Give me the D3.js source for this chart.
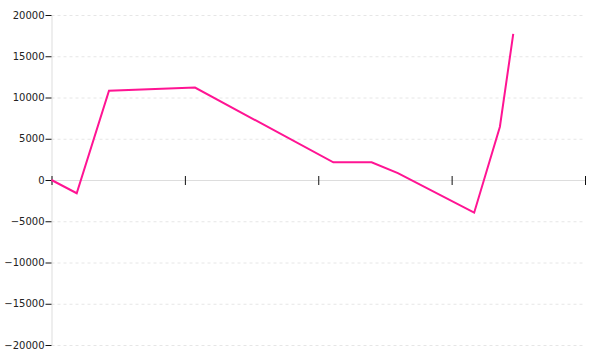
<!DOCTYPE html>
<html>
<head>
<meta charset="utf-8">
<script src="https://d3js.org/d3.v7.min.js"></script>
<style>
    body { margin: 0; background: #fff; }
    .axis text { font-family: "DejaVu Sans", sans-serif; font-size: 10px; fill: #222; }
</style>
</head>
<body>
<div id="chart-area"></div>
<script>
// x positions (position along the x axis) and y values
var xValues = [0, 18.9, 43.1, 107.6, 211.3, 240, 259.7, 316.9, 336.2, 346.2];
var yValues = [0, -1600, 10820, 11200, 2150, 2150, 830, -3960, 6460, 17700];
var xTicks = [0, 100, 200, 300, 400];
var yTicks = [-20000, -15000, -10000, -5000, 0, 5000, 10000, 15000, 20000];

var margin = { left: 51.5, right: 15, top: 15, bottom: 15 };
var width = 600 - margin.left - margin.right;
var height = 360 - margin.top - margin.bottom;

var svg = d3.select("#chart-area")
    .append("svg")
    .attr("width", 600)
    .attr("height", 360);

var g = svg.append("g")
    .attr("transform", "translate(" + margin.left + "," + margin.top + ")");

var x = d3.scaleLinear()
    .domain([0, 400])
    .range([0, width]);

var y = d3.scaleLinear()
    .domain([-20000, 20000])
    .range([height, 0]);

// dashed grid
g.append("g")
    .attr("class", "grid")
    .call(d3.axisLeft(y).tickValues(yTicks).tickSize(-width + 2).tickFormat(""))
    .call((sel) => {
        sel.select(".domain").remove();
        sel.selectAll("line")
            .attr("stroke", "#e6e6e6")
            .attr("stroke-dasharray", "3,3");
    });

// y axis
g.append("g")
    .attr("class", "axis")
    .call(d3.axisLeft(y).tickValues(yTicks).tickSize(6).tickPadding(1).tickFormat(d3.format("d")))
    .call((sel) => {
        sel.select(".domain").attr("stroke", "#ddd").attr("d", "M0.5," + y(20000) + "V" + y(-20000));
        sel.selectAll(".tick line").attr("stroke", "#111");
        sel.selectAll(".tick text").text((d) => { return d < 0 ? "\u2212" + Math.abs(d) : d; });
    });

// x axis along zero
var xAxis = g.append("g")
    .attr("class", "axis")
    .attr("transform", "translate(0," + y(0) + ")")
    .call(d3.axisBottom(x).tickValues(xTicks).tickSize(5).tickFormat(""));
xAxis.select(".domain").attr("stroke", "#ddd").attr("d", "M0," + 0.5 + "H" + width);
xAxis.selectAll(".tick line")
    .attr("stroke", "#111")
    .attr("y1", -4)
    .attr("y2", 5);

var line = d3.line()
    .x((d, i) => { return x(xValues[i]); })
    .y((d) => { return y(d); });

g.append("path")
    .datum(yValues)
    .attr("fill", "none")
    .attr("stroke", "#ff1493")
    .attr("stroke-width", 2)
    .attr("d", line);
</script>
</body>
</html>
